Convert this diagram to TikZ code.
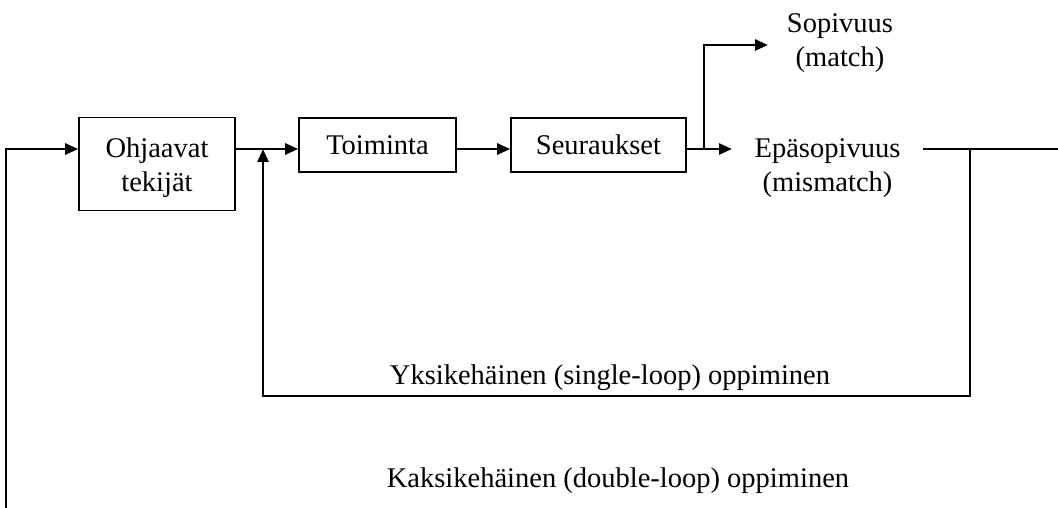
\documentclass[tikz,border=0pt]{standalone}
\usepackage{fontspec}
\setmainfont{Liberation Serif}
\usetikzlibrary{arrows.meta}
\begin{document}
\begin{tikzpicture}[x=1pt,y=-1pt,
  txt/.style={font=\fontsize{28.5}{34}\selectfont, inner sep=0pt, align=center},
  blk/.style={draw, line width=1.6pt, txt, minimum height=54pt},
  arr/.style={line width=2.6pt, -{Triangle[length=13pt,width=11pt]}},
  loopline/.style={line width=1.8pt, line cap=rect},
  ]
\useasboundingbox (0,0) rectangle (1058,508);
\node[blk, minimum width=156pt, minimum height=93pt] (ohj) at (157,164) {};
\node[txt] (ohjtxt) at (157,168) {Ohjaavat\\tekijät};
\node[blk, minimum width=157pt] (toim) at (377.5,145) {Toiminta};
\node[blk, minimum width=175pt] (seur) at (598.5,145) {Seuraukset};
\node[txt] (match) at (840,43) {Sopivuus\\(match)};
\node[txt] (mis) at (827.5,168) {Epäsopivuus\\(mismatch)};
\node[txt, anchor=base] (single) at (610,384) {Yksikehäinen (single-loop) oppiminen};
\node[txt, anchor=base] (double) at (618,487) {Kaksikehäinen (double-loop) oppiminen};

\coordinate (inL) at (6,149);
\coordinate (bot) at (6,508);
\coordinate (J) at (263,149);
\coordinate (Jb) at (263,396);
\coordinate (B) at (704,149);
\coordinate (Ma) at (768,45);
\coordinate (Ea) at (732,149);
\coordinate (Es) at (923,149);
\coordinate (Ee) at (1058,149);
\coordinate (R) at (970,149);
\coordinate (Rb) at (970,396);

\draw[loopline] (bot) -- (inL);
\draw[arr] (inL) -- (ohj.west |- inL);
\draw[arr] (ohj.east |- J) -- (toim.west |- J);
\draw[arr] (Jb) -- (J);
\draw[arr] (toim.east |- J) -- (seur.west |- J);
\draw[arr] (seur.east |- B) -- (Ea);
\draw[arr] (B) -- (B |- Ma) -- (Ma);
\draw[line width=1.2pt] (Es) -- (Ee);
\draw[loopline] (R) -- (Rb) -- (Jb);
\end{tikzpicture}
\end{document}
